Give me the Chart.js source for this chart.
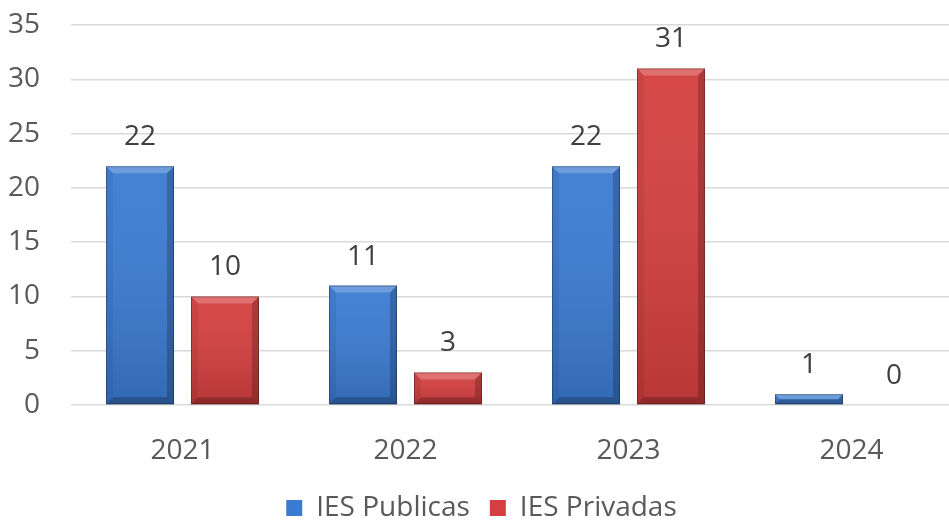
<!DOCTYPE html>
<html>
<head>
<meta charset="utf-8">
<script src="https://cdn.jsdelivr.net/npm/chart.js@4"></script>
<style>
  html, body { margin: 0; padding: 0; background: #fff; overflow: hidden; }
  #wrap { width: 963px; height: 522px; }
</style>
</head>
<body>
<div id="wrap"><canvas id="chart"></canvas></div>
<script>
const years = ["2021", "2022", "2023", "2024"];
const publicas = [22, 11, 22, 1];
const privadas = [10, 3, 31, 0];
const seriesNames = ["IES Publicas", "IES Privadas"];
const yTicks = [0, 5, 10, 15, 20, 25, 30, 35];

const FONT = "'Open Sans', sans-serif";
const FSIZE = 28;

// bevelled look like the office chart
const bevelPlugin = {
  id: "bevel",
  afterDatasetsDraw(chart) {
    const ctx = chart.ctx;
    chart.data.datasets.forEach((ds, i) => {
      chart.getDatasetMeta(i).data.forEach(bar => {
        const x0 = bar.x - bar.width / 2, x1 = bar.x + bar.width / 2;
        const y0 = Math.min(bar.y, bar.base), y1 = Math.max(bar.y, bar.base);
        const h = y1 - y0, w = x1 - x0;
        if (h < 0.5) return;
        const b = Math.min(7, h / 2, w / 2);
        ctx.save();
        const g = ctx.createLinearGradient(0, y0, 0, y1);
        g.addColorStop(0, "rgba(255,255,255,0.05)");
        g.addColorStop(1, "rgba(0,0,0,0.14)");
        ctx.fillStyle = g;
        ctx.fillRect(x0, y0, w, h);
        const poly = (pts, col) => {
          ctx.beginPath();
          ctx.moveTo(pts[0][0], pts[0][1]);
          pts.slice(1).forEach(p => ctx.lineTo(p[0], p[1]));
          ctx.closePath();
          ctx.fillStyle = col;
          ctx.fill();
        };
        poly([[x0, y0], [x1, y0], [x1 - b, y0 + b], [x0 + b, y0 + b]], "rgba(255,255,255,0.22)");
        poly([[x0, y0], [x0 + b, y0 + b], [x0 + b, y1 - b], [x0, y1]], "rgba(0,0,0,0.06)");
        poly([[x1, y0], [x1, y1], [x1 - b, y1 - b], [x1 - b, y0 + b]], "rgba(0,0,0,0.2)");
        poly([[x0, y1], [x0 + b, y1 - b], [x1 - b, y1 - b], [x1, y1]], "rgba(0,0,0,0.22)");
        ctx.strokeStyle = "rgba(0,0,0,0.3)";
        ctx.lineWidth = 1;
        ctx.strokeRect(x0 + 0.5, y0 + 0.5, w - 1, h - 1);
        ctx.restore();
      });
    });
  }
};

// value labels above the bars
const valueLabels = {
  id: "valueLabels",
  afterDatasetsDraw(chart) {
    const ctx = chart.ctx;
    ctx.save();
    ctx.font = FSIZE + "px " + FONT;
    ctx.fillStyle = "#404040";
    ctx.textAlign = "center";
    ctx.textBaseline = "middle";
    chart.data.datasets.forEach((ds, i) => {
      chart.getDatasetMeta(i).data.forEach((bar, j) => {
        ctx.fillText(String(ds.data[j]), bar.x, bar.y - 29);
      });
    });
    ctx.restore();
  }
};

// legend box shorter than its padding would make it, so it sits low
const legendHeight = {
  id: "legendHeight",
  beforeUpdate(chart) {
    const lg = chart.legend;
    if (lg && !lg._patched) {
      const fit = lg.fit.bind(lg);
      lg.fit = function () { fit(); this.height = 48; };
      lg._patched = true;
    }
  }
};

new Chart(document.getElementById("chart"), {
  type: "bar",
  data: {
    labels: years,
    datasets: [
      { label: seriesNames[0], data: publicas, backgroundColor: "#3B7BD2", borderWidth: 0 },
      { label: seriesNames[1], data: privadas, backgroundColor: "#D53F3F", borderWidth: 0 }
    ]
  },
  options: {
    responsive: true,
    maintainAspectRatio: false,
    animation: false,
    categoryPercentage: 0.762,
    barPercentage: 0.8,
    layout: { padding: { top: 25, left: 0, right: 0, bottom: 0 } },
    plugins: {
      tooltip: { enabled: false },
      legend: {
        position: "bottom",
        labels: {
          font: { family: FONT, size: FSIZE },
          color: "#595959",
          boxWidth: 16,
          boxHeight: 16,
          padding: 20
        }
      }
    },
    scales: {
      x: {
        grid: { display: false },
        border: { display: false },
        ticks: { font: { family: FONT, size: FSIZE }, color: "#595959", padding: 21 },
        afterFit(scale) { scale.height = 69; scale.paddingLeft = 0; scale.paddingRight = 0; }
      },
      y: {
        min: 0,
        max: 35,
        afterBuildTicks(scale) { scale.ticks = yTicks.map(v => ({ value: v })); },
        grid: { color: "#d9d9d9", lineWidth: 1.5, drawTicks: false },
        border: { display: false },
        ticks: { font: { family: FONT, size: FSIZE }, color: "#595959", padding: 31 },
        afterFit(scale) { scale.width = 71; scale.paddingTop = 0; scale.paddingBottom = 0; }
      }
    }
  },
  plugins: [bevelPlugin, valueLabels, legendHeight]
});
</script>
</body>
</html>
